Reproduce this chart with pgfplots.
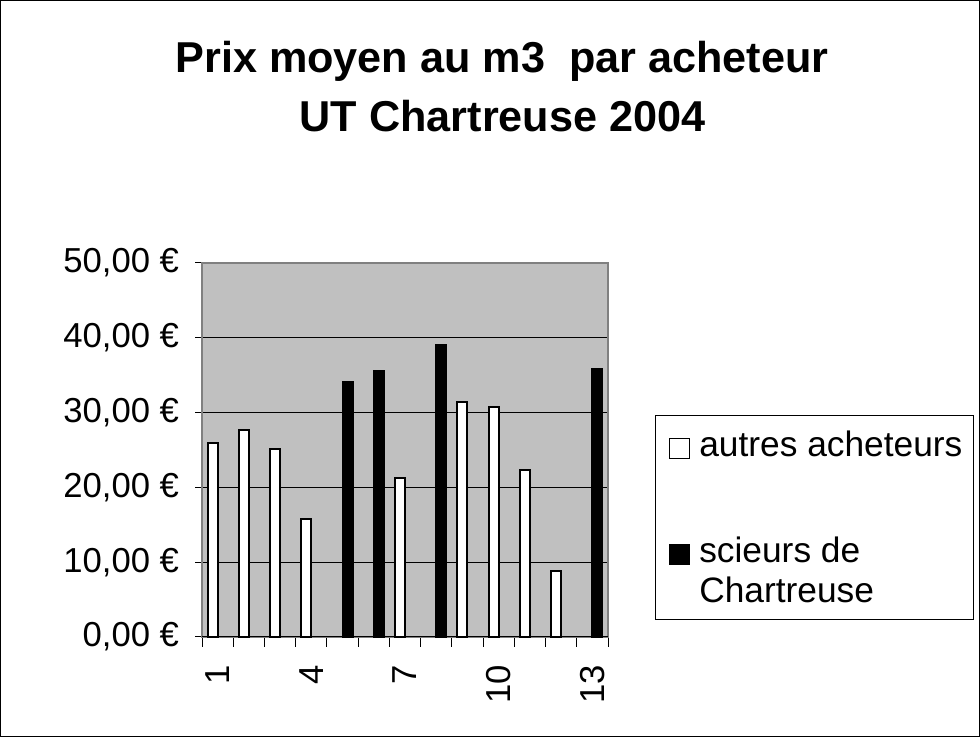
\documentclass[border=0pt]{standalone}
\usepackage{pgfplots}
\pgfplotsset{compat=1.18}
\usepackage{fontspec}
\setmainfont{Liberation Sans}
\definecolor{plotgray}{RGB}{192,192,192}
\definecolor{bordergray}{RGB}{128,128,128}
\pgfplotsset{
  legA/.style={legend image code/.code={\draw[##1, draw=black, line width=0.75pt] (3.75pt,-1.5pt) rectangle (18.75pt,13.5pt); \path (0pt,-58pt) (23.25pt,30pt);}},
  legB/.style={legend image code/.code={\draw[##1, draw=black, line width=0.75pt] (3.75pt,-1.5pt) rectangle (18.75pt,13.5pt); \path (0pt,-7.5pt) (23.25pt,20pt);}},
  legC/.style={legend image code/.code={\path (0pt,-12.75pt) (23.25pt,20pt);}},
}
\begin{document}
\begin{tikzpicture}
\useasboundingbox (0,0) rectangle (735pt,552.75pt);
\draw[black, line width=0.75pt] (0.375pt,0.375pt) rectangle (734.625pt,552.375pt);
\begin{axis}[
  at={(151.5pt,75pt)}, anchor=south west,
  scale only axis, width=304.5pt, height=280.5pt,
  xmin=0.5, xmax=13.5, ymin=0, ymax=50,
  ybar, bar width=0.32,
  axis background/.style={fill=plotgray},
  axis line style={draw=bordergray, line width=1.2pt},
  xtick={0.5,1.5,2.5,3.5,4.5,5.5,6.5,7.5,8.5,9.5,10.5,11.5,12.5,13.5}, xticklabels={},
  extra x ticks={1,4,7,10,13}, extra x tick labels={1,4,7,10,13},
  extra x tick style={major tick length=0pt, grid=none, tick style={draw=none},
     xticklabel style={rotate=90, anchor=east, inner sep=0pt}},
  xticklabel shift=21pt,
  xtick pos=left, ytick pos=left,
  ytick={0,10,...,50},
  yticklabels={{0,00 €},{10,00 €},{20,00 €},{30,00 €},{40,00 €},{50,00 €}},
  yticklabel style={anchor=east, inner sep=0pt},
  yticklabel shift=12.75pt,
  tick label style={font=\fontsize{26}{30}\selectfont},
  ymajorgrids, major grid style={black, line width=0.6pt},
  tick align=outside, tick style={black, line width=0.75pt},
  xtick style={/pgfplots/major tick length=7.5pt}, ytick style={/pgfplots/major tick length=5.25pt},
  legend style={at={(1.116,0.594)}, anchor=north west, draw=black, line width=0.75pt, fill=white,
     inner xsep=6pt, inner ysep=0pt, row sep=0pt,
     font=\fontsize{26.5}{27}\selectfont,
     cells={anchor=base west, inner sep=0pt}},
  clip=false,
]
\addplot[ybar, bar shift=-0.16, fill=white, draw=black, line width=1.5pt, legA]
  coordinates {(1,25.9) (2,27.7) (3,25.2) (4,15.8) (7,21.2) (9,31.4) (10,30.7) (11,22.3) (12,8.8)};
\addplot[ybar, bar shift=0.16, fill=black, draw=black, line width=1.5pt, legB]
  coordinates {(5,34.1) (6,35.5) (8,39.1) (13,35.8)};
\addlegendimage{legC}
\legend{autres acheteurs, scieurs de, Chartreuse}
\draw[black, line width=0.75pt] (axis cs:0.5,0) -- (axis cs:13.5,0);
\end{axis}
\node[anchor=base, inner sep=0pt, font=\bfseries\fontsize{32.4}{38}\selectfont] at (376.5pt,498pt) {Prix moyen au m3\ \ par acheteur};
\node[anchor=base, inner sep=0pt, font=\bfseries\fontsize{32.4}{38}\selectfont] at (377pt,453.75pt) {UT Chartreuse 2004};
\end{tikzpicture}
\end{document}
